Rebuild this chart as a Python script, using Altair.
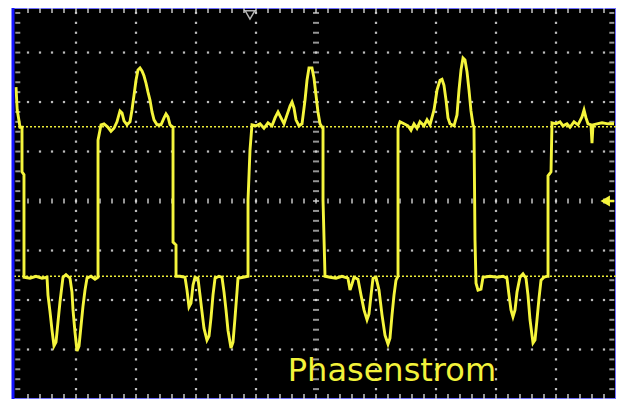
import altair as alt
import pandas as pd

# Oscilloscope trace "Phasenstrom": time in horizontal divisions, current in vertical divisions
time_div = [
    0, 0.02, 0.05, 0.067, 0.10, 0.10, 0.133, 0.133,
    0.233, 0.333, 0.433, 0.517, 0.533, 0.567, 0.60, 0.633, 0.667, 0.70, 0.733, 0.767, 0.783, 0.833, 0.90,
    0.933, 0.95, 0.983, 1.017, 1.05, 1.083, 1.117, 1.15, 1.183, 1.25, 1.317, 1.367,
    1.367, 1.417,
    1.467, 1.533, 1.583, 1.633, 1.683, 1.733, 1.767, 1.80, 1.85, 1.90, 1.933, 1.967, 2.0, 2.033, 2.067,
    2.10, 2.133, 2.167, 2.20, 2.233, 2.267, 2.30, 2.35, 2.417, 2.467, 2.50, 2.533, 2.567, 2.617,
    2.617, 2.667, 2.667,
    2.733, 2.817, 2.85, 2.883, 2.917, 2.95, 2.983, 3.033, 3.067, 3.10, 3.133, 3.183, 3.217, 3.25, 3.283,
    3.317, 3.383, 3.433, 3.467, 3.50, 3.533, 3.583, 3.617, 3.65, 3.683, 3.70, 3.783, 3.867,
    3.867, 3.90, 3.933,
    4.0, 4.067, 4.133, 4.20, 4.267, 4.317, 4.367, 4.417, 4.467, 4.517, 4.567, 4.60, 4.633, 4.667, 4.717,
    4.767, 4.817, 4.85, 4.883, 4.933, 4.967, 5.0, 5.033, 5.067, 5.10,
    5.117, 5.117, 5.15,
    5.233, 5.333, 5.433, 5.533, 5.567, 5.60, 5.633, 5.70, 5.75, 5.80, 5.85, 5.883, 5.917, 5.95, 6.0,
    6.05, 6.10, 6.15, 6.20, 6.233, 6.267, 6.30, 6.333, 6.367,
    6.367, 6.40,
    6.467, 6.533, 6.583, 6.633, 6.683, 6.733, 6.80, 6.85, 6.90, 6.967, 7.017, 7.067, 7.10, 7.133, 7.167,
    7.20, 7.233, 7.30, 7.35, 7.383, 7.417, 7.45, 7.483, 7.517, 7.55, 7.583, 7.617,
    7.633, 7.65, 7.667, 7.70, 7.75, 7.783,
    7.90, 8.017, 8.117, 8.183, 8.217, 8.25, 8.283, 8.317, 8.35, 8.40, 8.45, 8.50, 8.533, 8.567, 8.617,
    8.65, 8.683, 8.717, 8.75, 8.80, 8.85,
    8.867, 8.867, 8.917, 8.933,
    9.0, 9.067, 9.117, 9.183, 9.233, 9.30, 9.367, 9.433, 9.467, 9.50, 9.533, 9.583, 9.60, 9.617, 9.683,
    9.767, 9.867, 9.967,
]
current_div = [
    2.30, 1.84, 1.62, 1.49, 1.49, 0.59, 0.53, -1.54,
    -1.56, -1.52, -1.56, -1.54, -1.90, -2.24, -2.61, -2.93, -2.85, -2.44, -2.04, -1.70, -1.54, -1.49, -1.56,
    -1.84, -2.20, -2.65, -3.03, -2.93, -2.53, -2.12, -1.80, -1.56, -1.52, -1.58, -1.54,
    1.23, 1.54,
    1.56, 1.49, 1.41, 1.47, 1.60, 1.82, 1.78, 1.62, 1.54, 1.60, 1.84, 2.14, 2.44, 2.65, 2.69,
    2.63, 2.53, 2.38, 2.20, 2.04, 1.80, 1.64, 1.54, 1.54, 1.68, 1.76, 1.70, 1.54, 1.49,
    -0.83, -0.89, -1.52,
    -1.52, -1.54, -1.80, -2.14, -2.06, -1.70, -1.54, -1.56, -1.90, -2.24, -2.57, -2.81, -2.73, -2.36, -1.90,
    -1.56, -1.52, -1.54, -1.84, -2.20, -2.61, -2.97, -2.85, -2.36, -1.84, -1.56, -1.54, -1.52,
    0.02, 1.03, 1.54,
    1.52, 1.56, 1.47, 1.58, 1.52, 1.68, 1.80, 1.68, 1.56, 1.74, 1.92, 2.00, 1.88, 1.64, 1.52,
    1.56, 2.04, 2.44, 2.69, 2.69, 2.48, 2.14, 1.80, 1.56, 1.49,
    1.49, 0.02, -1.52,
    -1.54, -1.56, -1.52, -1.56, -1.80, -1.68, -1.54, -1.58, -1.90, -2.20, -2.40, -2.28, -1.90, -1.56, -1.54,
    -1.80, -2.30, -2.71, -2.89, -2.77, -2.30, -1.90, -1.60, -1.52,
    1.49, 1.60,
    1.56, 1.52, 1.43, 1.56, 1.47, 1.60, 1.52, 1.64, 1.54, 1.84, 2.24, 2.44, 2.46, 2.34, 2.04,
    1.68, 1.56, 1.52, 1.74, 2.24, 2.65, 2.89, 2.85, 2.61, 2.24, 1.82, 1.54,
    1.49, -0.79, -1.66, -1.80, -1.78, -1.54,
    -1.52, -1.54, -1.52, -1.56, -1.90, -2.20, -2.34, -2.20, -1.84, -1.54, -1.47, -1.56, -1.90, -2.40, -2.87,
    -2.81, -2.40, -1.96, -1.60, -1.54, -1.52,
    -1.52, 0.51, 0.59, 1.58,
    1.56, 1.60, 1.52, 1.56, 1.49, 1.60, 1.54, 1.70, 1.84, 1.68, 1.56, 1.54, 1.17, 1.54, 1.56,
    1.58, 1.56, 1.56,
]

# dotted cursor levels (upper / lower plateau)
cursor_levels = [1.5, -1.52]

# graticule: major divisions and minor subdivisions
grid_x_major = [1, 2, 3, 4, 6, 7, 8, 9]
grid_y_major = [-3, -2, -1, 1, 2, 3]
minor_x = [round(0.2 * k, 2) for k in range(1, 50)]
minor_y = [round(-4 + 0.2 * k, 2) for k in range(1, 40)]

label_text = ["Phasenstrom"]

trace = pd.DataFrame({"t": time_div, "v": current_div, "i": list(range(len(time_div)))})

dots = pd.DataFrame(
    [{"t": gx, "v": my} for gx in grid_x_major for my in minor_y]
    + [{"t": mx, "v": gy} for gy in grid_y_major for mx in minor_x]
)
center_h = pd.DataFrame({"t": minor_x, "v": [0] * len(minor_x)})
center_v = pd.DataFrame({"t": [5] * len(minor_y), "v": minor_y})
edge_top = pd.DataFrame({"t": minor_x, "v": [3.85] * len(minor_x)})
edge_bottom = pd.DataFrame({"t": minor_x, "v": [-3.95] * len(minor_x)})
edge_left = pd.DataFrame({"t": [0.03] * len(minor_y), "v": minor_y})
edge_right = pd.DataFrame({"t": [9.93] * len(minor_y), "v": minor_y})
levels = pd.DataFrame({"v": cursor_levels})

xs = alt.Scale(domain=[-0.05, 10], nice=False, zero=False)
ys = alt.Scale(domain=[-4, 3.9], nice=False, zero=False)


def X(f="t"):
    return alt.X(f, type="quantitative", scale=xs, axis=None)


def Y(f="v"):
    return alt.Y(f, type="quantitative", scale=ys, axis=None)


dot_layer = alt.Chart(dots).mark_square(size=5, color="#bcbcbc", opacity=1).encode(x=X(), y=Y())
tick_c = "#d4d4d4"
ch_layer = alt.Chart(center_h).mark_tick(orient="vertical", size=5, thickness=2, color=tick_c).encode(x=X(), y=Y())
cv_layer = alt.Chart(center_v).mark_tick(orient="horizontal", size=6, thickness=2, color=tick_c).encode(x=X(), y=Y())
et_layer = alt.Chart(edge_top).mark_tick(orient="vertical", size=5, thickness=2, color=tick_c).encode(x=X(), y=Y())
eb_layer = alt.Chart(edge_bottom).mark_tick(orient="vertical", size=5, thickness=2, color=tick_c).encode(x=X(), y=Y())
el_layer = alt.Chart(edge_left).mark_tick(orient="horizontal", size=5, thickness=2, color=tick_c).encode(x=X(), y=Y())
er_layer = alt.Chart(edge_right).mark_tick(orient="horizontal", size=5, thickness=2, color=tick_c).encode(x=X(), y=Y())

level_layer = alt.Chart(levels).mark_rule(color="#ecec38", strokeWidth=1.6, strokeDash=[2, 2]).encode(y=Y())

trace_layer = alt.Chart(trace).mark_line(color="#f5f53c", strokeWidth=2.9, interpolate="linear").encode(
    x=X(), y=Y(), order=alt.Order("i:Q")
)

left_border = alt.Chart(pd.DataFrame({"t": [-0.05]})).mark_rule(color="#1414ff", strokeWidth=3).encode(x=X())

trig = alt.Chart(pd.DataFrame({"t": [3.9], "v": [3.76]})).mark_point(
    shape="triangle-down", filled=False, color="white", size=90, strokeWidth=1.5
).encode(x=X(), y=Y())
gnd = alt.Chart(pd.DataFrame({"t": [9.82], "v": [0]})).mark_point(
    shape="triangle-left", filled=True, color="#f5f53c", size=120, opacity=1
).encode(x=X(), y=Y())
gnd_shaft = alt.Chart(pd.DataFrame({"t": [9.82], "t2": [9.97], "v": [0]})).mark_rule(
    color="#f5f53c", strokeWidth=2.5
).encode(x=X(), x2="t2", y=Y())

label = alt.Chart(pd.DataFrame({"t": [4.53], "v": [-3.64], "s": label_text})).mark_text(
    align="left", baseline="alphabetic", font="DejaVu Sans", fontSize=32, color="#f2f23a"
).encode(x=X(), y=Y(), text="s:N")

chart = alt.layer(
    dot_layer, ch_layer, cv_layer, et_layer, eb_layer, el_layer, er_layer,
    level_layer, trace_layer, left_border, trig, gnd, gnd_shaft, label,
).properties(
    width=603, height=391,
    padding={"left": 5, "top": 0, "right": 0, "bottom": 0},
    autosize=alt.AutoSizeParams(type="none"),
    background="white",
).configure_view(
    fill="black", stroke="#7070ff", strokeWidth=2
)

chart.save("out.html", embed_options={"renderer": "svg", "actions": False})
